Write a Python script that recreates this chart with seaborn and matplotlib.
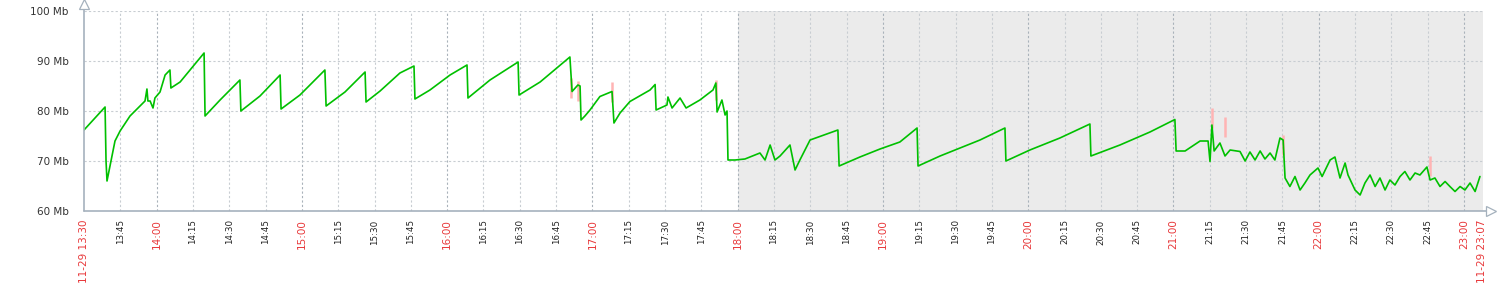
import matplotlib
matplotlib.use("Agg")
import matplotlib.pyplot as plt
import seaborn as sns
import pandas as pd

# minutes after 11-29 13:30
minutes = [0, 8.7, 9.1, 9.5, 12.8, 14.9, 19.0, 25.2, 26.0, 26.4, 27.3, 28.5, 29.3, 31.4, 33.5, 35.5, 35.9,
           39.7, 43.8, 49.6, 50.0, 56.2, 64.4, 64.8, 72.7, 81.0, 81.4, 89.2, 99.5, 100.0,
           107.8, 116.1, 116.5, 122.3, 130.5, 136.3, 136.7, 142.9, 151.2, 158.2, 158.6,
           167.7, 179.3, 179.7, 188.4, 200.7, 201.6, 204.0, 204.9, 205.3, 206.9, 209.0,
           213.1, 218.1, 218.9, 221.4, 225.5, 233.8, 235.9, 236.3, 240.8, 241.2, 242.9,
           246.2, 248.7, 254.4, 259.8, 261.0, 261.5, 263.5, 264.8, 265.6, 266.0, 268.9,
           273.0, 279.2, 281.3, 283.4, 285.4, 287.5, 291.6, 293.7, 295.7, 299.9, 311.4,
           311.9, 320.5, 328.8, 337.0, 344.1, 344.5, 353.6, 361.8, 370.1, 380.4, 380.8,
           390.7, 403.1, 415.5, 415.9, 427.9, 440.3, 450.6, 451.1, 454.8, 461.0, 464.3,
           465.1, 465.9, 466.8, 469.2, 471.3, 473.4, 477.5, 479.6, 481.6, 483.7, 485.8,
           487.8, 489.9, 491.9, 494.0, 495.3, 496.1, 498.1, 500.2, 502.3, 504.3, 506.4,
           509.7, 511.4, 514.7, 516.7, 518.8, 520.9, 522.1, 525.0, 527.1, 529.1, 531.2,
           533.3, 535.3, 537.4, 539.4, 541.5, 543.6, 545.6, 547.7, 549.8, 551.8, 554.7,
           556.0, 558.0, 560.1, 562.2, 564.2, 566.3, 568.4, 570.4, 572.5, 574.6, 576.6]
traffic_mb = [76.2, 80.8, 70.0, 66.0, 74.0, 76.0, 79.0, 82.0, 84.4, 82.0, 82.0, 80.6, 82.6, 83.8, 87.2, 88.2, 84.6,
              85.8, 88.2, 91.6, 79.0, 82.2, 86.2, 80.0, 83.0, 87.2, 80.4, 83.2, 88.2, 81.0,
              83.8, 87.8, 81.8, 84.0, 87.6, 89.0, 82.4, 84.2, 87.2, 89.2, 82.6,
              86.2, 89.8, 83.2, 85.8, 90.8, 83.9, 85.2, 85.0, 78.2, 79.0, 80.2,
              82.9, 83.9, 77.6, 79.6, 81.9, 84.2, 85.3, 80.2, 81.2, 82.8, 80.6,
              82.6, 80.6, 82.2, 84.2, 85.6, 79.8, 82.2, 79.2, 80.0, 70.2, 70.2,
              70.4, 71.6, 70.2, 73.2, 70.2, 71.0, 73.2, 68.2, 70.2, 74.2, 76.2,
              69.0, 70.8, 72.4, 73.8, 76.6, 69.0, 71.0, 72.6, 74.2, 76.6, 70.0,
              72.2, 74.6, 77.4, 71.0, 73.2, 75.8, 78.3, 72.0, 72.0, 74.0, 74.0,
              69.9, 77.2, 72.0, 73.6, 71.0, 72.2, 71.9, 70.0, 71.8, 70.2, 72.0,
              70.4, 71.6, 70.2, 74.6, 74.2, 66.6, 64.9, 66.9, 64.2, 65.6, 67.2,
              68.6, 66.9, 70.2, 70.8, 66.6, 69.6, 67.2, 64.2, 63.2, 65.6, 67.2,
              64.9, 66.6, 64.2, 66.2, 65.2, 66.9, 67.9, 66.2, 67.6, 67.2, 68.8,
              66.2, 66.6, 64.9, 65.9, 64.9, 63.9, 64.9, 64.2, 65.6, 63.9, 66.9]

# max spikes (pink)
max_minutes = [201.0, 204.0, 218.1, 261.0, 465.9, 471.3, 495.3, 556.0]
max_mb = [86.6, 86.0, 85.8, 86.2, 80.6, 78.8, 75.2, 71.0]

tick_minutes = list(range(0, 571, 15)) + [577.5]
tick_labels = ["11-29 13:30", "13:45", "14:00", "14:15", "14:30", "14:45", "15:00", "15:15",
               "15:30", "15:45", "16:00", "16:15", "16:30", "16:45", "17:00", "17:15", "17:30",
               "17:45", "18:00", "18:15", "18:30", "18:45", "19:00", "19:15", "19:30", "19:45",
               "20:00", "20:15", "20:30", "20:45", "21:00", "21:15", "21:30", "21:45", "22:00",
               "22:15", "22:30", "22:45", "23:00", "11-29 23:07"]
y_ticks = [60, 70, 80, 90, 100]
y_labels = ["60 Mb", "70 Mb", "80 Mb", "90 Mb", "100 Mb"]

sns.set_theme(style="white")
plt.rcParams['font.family'] = ['DejaVu Sans']

W, H = 1505, 294
fig = plt.figure(figsize=(W / 100, H / 100), dpi=100)
ax = fig.add_axes([84 / W, 1 - 211 / H, (1483 - 84) / W, 200 / H])
XMAX = 1399 / 2.421

df = pd.DataFrame({"t": minutes, "v": traffic_mb})

ax.axvspan(270, XMAX, color="#ebebeb", zorder=0, lw=0)

# grid
for t in tick_minutes[1:-1]:
    hour = (t % 30 == 0) and ((t + 30) % 60 == 0)
    ax.axvline(t, color="#a9b2ba" if hour else "#c8cdd2", lw=0.8, ls=(0, (2, 2)), zorder=1)
for y in y_ticks[1:]:
    ax.axhline(y, color="#c8cdd2", lw=0.8, ls=(0, (2, 2)), zorder=1)

ax.vlines(max_minutes, [v - 4 for v in max_mb], max_mb, color="#ffb4b4", lw=1.8, zorder=2)
sns.lineplot(data=df, x="t", y="v", ax=ax, color="#00c000", lw=1.2, estimator=None,
             sort=False, zorder=3)

ax.set_xlim(0, XMAX)
ax.set_ylim(60, 100)
ax.set_xlabel("")
ax.set_ylabel("")
for s in ax.spines.values():
    s.set_visible(False)

ax.set_yticks(y_ticks)
ax.set_yticklabels(y_labels, fontsize=7.5, color="#333333")
ax.tick_params(axis="y", length=0, pad=11)

ax.set_xticks(tick_minutes)
ax.set_xticklabels(tick_labels, rotation=90, va="top", ha="center")
ax.tick_params(axis="x", length=3, width=0.8, color="#a5b1bd", pad=3)
for t, lab in zip(tick_minutes, ax.get_xticklabels()):
    red = (t == tick_minutes[0]) or (t == tick_minutes[-1]) or ((t + 30) % 60 == 0)
    lab.set_color("#e8383a" if red else "#222222")
    lab.set_fontsize(7.5 if red else 6.3)

axis_col = "#a5b1bd"
ax.plot([0, 0], [0, 1.035], transform=ax.transAxes, color=axis_col, lw=1.2, clip_on=False, zorder=5)
ax.plot([0, 1.005], [0, 0], transform=ax.transAxes, color=axis_col, lw=1.2, clip_on=False, zorder=5)
ax.plot([0], [1.035], transform=ax.transAxes, marker="^", ms=7, mfc="white", mec=axis_col,
        mew=0.9, clip_on=False, zorder=6)
ax.plot([1.006], [0], transform=ax.transAxes, marker=">", ms=7, mfc="white", mec=axis_col,
        mew=0.9, clip_on=False, zorder=6)

fig.savefig("out.png", dpi=100)
